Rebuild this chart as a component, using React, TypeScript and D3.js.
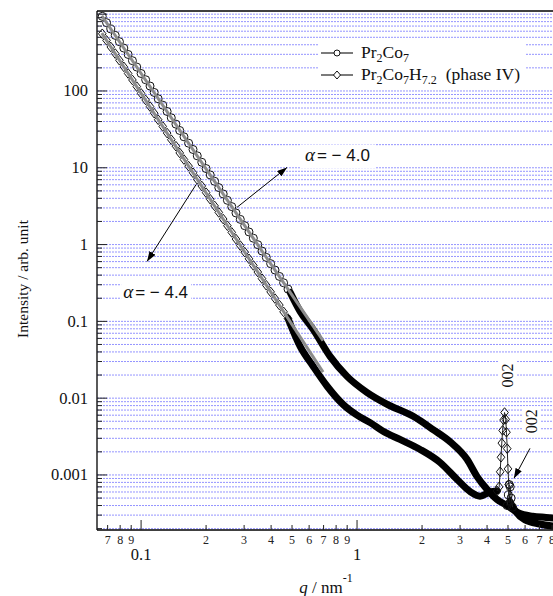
import React from 'react';
import * as d3 from 'd3';

// ---- data ----

// low-q region, sparse markers (both samples measured on the same q grid)
const qLow = [
  0.0661, 0.0692, 0.0724, 0.0759, 0.0794, 0.0832, 0.0871, 0.0912, 0.0955, 0.1,
  0.105, 0.11, 0.115, 0.12, 0.126, 0.132, 0.138, 0.145, 0.151, 0.158,
  0.166, 0.174, 0.182, 0.191, 0.2, 0.209, 0.219, 0.229, 0.24, 0.251,
  0.263, 0.275, 0.288, 0.302, 0.316, 0.331, 0.347, 0.363, 0.38, 0.398,
  0.417, 0.437, 0.457, 0.479,
];
const iPr2Co7Low = [
  938, 775, 641, 530, 438, 362, 299, 248, 205, 169,
  140, 116, 95.7, 79.1, 65.4, 54.1, 44.7, 37.0, 30.6, 25.3,
  20.9, 17.3, 14.3, 11.8, 9.77, 8.07, 6.67, 5.52, 4.56, 3.77,
  3.12, 2.58, 2.13, 1.76, 1.46, 1.21, 0.996, 0.824, 0.681, 0.564,
  0.466, 0.385, 0.318, 0.263,
];
const iHydrideLow = [
  556, 456, 374, 307, 251, 206, 169, 139, 114, 93.1,
  76.4, 62.7, 51.4, 42.2, 34.5, 28.3, 23.2, 19.1, 15.6, 12.8,
  10.5, 8.61, 7.06, 5.79, 4.74, 3.89, 3.19, 2.62, 2.15, 1.76,
  1.44, 1.18, 0.97, 0.796, 0.652, 0.535, 0.439, 0.36, 0.295, 0.242,
  0.198, 0.163, 0.133, 0.109,
];

// dense region (points so close they merge into a thick band)
const qPr2Co7Band = [0.49, 0.545, 0.626, 0.75, 0.899, 1.11, 1.38, 1.82, 2.25, 2.7, 3.23, 3.59, 4.0, 4.45, 4.95, 5.6, 6.5, 7.5, 8.8];
const iPr2Co7Band = [0.239, 0.135, 0.0787, 0.035, 0.0192, 0.0119, 0.0083, 0.0058, 0.0039, 0.0027, 0.0016, 0.00096, 0.00065, 0.00048, 0.0004, 0.00032, 0.00029, 0.00028, 0.00027];

const qHydrideBand = [0.479, 0.545, 0.626, 0.727, 0.861, 1.0, 1.15, 1.32, 1.58, 1.96, 2.42, 2.9, 3.33, 3.71, 4.13, 4.45];
const iHydrideBand = [0.109, 0.0472, 0.026, 0.0143, 0.0083, 0.006, 0.0048, 0.0037, 0.0029, 0.00215, 0.00146, 0.00088, 0.00061, 0.00053, 0.0006, 0.00062];

const qHydrideTail = [5.1, 5.4, 6.0, 7.0, 8.8];
const iHydrideTail = [0.00045, 0.00034, 0.00026, 0.00023, 0.00021];

// 002 reflections
const qHydridePeak = [4.45, 4.55, 4.6, 4.64, 4.68, 4.72, 4.77, 4.82, 4.88, 4.92, 4.96, 5.0, 5.04, 5.1];
const iHydridePeak = [0.00062, 0.0007, 0.0011, 0.0017, 0.0026, 0.0038, 0.0052, 0.0065, 0.0053, 0.0036, 0.0022, 0.0012, 0.00075, 0.00045];
const qPr2Co7Peak = [4.95, 5.02, 5.07, 5.12, 5.17, 5.25];
const iPr2Co7Peak = [0.0004, 0.00055, 0.00075, 0.0007, 0.0005, 0.00038];

// power-law fits (grey lines)
const fitQ = [0.0658, 0.696];
const fitPr2Co7 = [954, 0.056];
const fitHydride = [566, 0.0218];

// axis ticks
const yMajor = [0.001, 0.01, 0.1, 1, 10, 100, 1000];
const yMajorLabels = ['0.001', '0.01', '0.1', '1', '10', '100', ''];
const xMajor = [0.1, 1];
const xMajorLabels = ['0.1', '1'];

const serif = '"Liberation Serif", "Times New Roman", serif';
const sans = '"Liberation Sans", Arial, sans-serif';

const zip = (qs: number[], is: number[]) => qs.map((q, k) => [q, is[k]] as [number, number]);

const App = () => {
  const W = 553;
  const H = 596;
  const left = 97;
  const right = 573;
  const top = 11;
  const bottom = 530;

  const x = d3.scaleLog().domain([0.0625, 10]).range([left, right]);
  const y = d3.scaleLog().domain([1.92e-4, 1100]).range([bottom, top]);

  const line = d3.line<[number, number]>().x(d => x(d[0])).y(d => y(d[1]));
  const smooth = d3.line<[number, number]>().x(d => x(d[0])).y(d => y(d[1])).curve(d3.curveMonotoneX);

  // all minor/major y values for ticks and grid
  const yAll: number[] = [];
  for (let e = -4; e <= 3; e++) {
    for (let m = 1; m <= 9; m++) {
      const v = m * Math.pow(10, e);
      if (v >= 1.92e-4 && v <= 1100) yAll.push(v);
    }
  }
  const xAll: number[] = [];
  for (let e = -2; e <= 1; e++) {
    for (let m = 1; m <= 9; m++) {
      const v = m * Math.pow(10, e);
      if (v >= 0.0625 && v <= 10) xAll.push(v);
    }
  }
  const isMajor = (v: number) => Math.abs(Math.log10(v) - Math.round(Math.log10(v))) < 1e-6;

  const lowC = zip(qLow, iPr2Co7Low);
  const lowD = zip(qLow, iHydrideLow);
  const diamond = (cx: number, cy: number) => `M${cx},${cy - 4.8}L${cx + 3.8},${cy}L${cx},${cy + 4.8}L${cx - 3.8},${cy}Z`;

  // annotations in data coordinates
  const arrows = [
    { from: [0.278, 3.05], to: [0.474, 10.1] },
    { from: [0.18, 6.08], to: [0.1066, 0.604] },
    { from: [6.32, 0.00222], to: [5.33, 0.000904] },
  ];

  const ax1 = x(0.574), ay1 = y(12.1);
  const ax2 = x(0.0826), ay2 = y(0.2);
  const p1x = x(5.0), p1y = y(0.0198);
  const p2x = x(6.46), p2y = y(0.00499);

  const sub = (t: string) => (
    <tspan dy={4} fontSize={12}>{t}</tspan>
  );

  return (
    <div style={{ position: 'absolute', left: 0, top: 0 }}>
      <svg width={W} height={H} style={{ display: 'block', background: '#fff' }}>
        <defs>
          <clipPath id="plot">
            <rect x={left} y={top} width={right - left} height={bottom - top} />
          </clipPath>
          <marker id="ah" markerUnits="userSpaceOnUse" markerWidth={10} markerHeight={7} refX={10} refY={3.5} orient="auto">
            <path d="M0,0L10,3.5L0,7Z" fill="#000" />
          </marker>
        </defs>

        {/* horizontal grid */}
        <g>
          {yAll.map(v => (
            <line key={'g' + v} x1={left} x2={right} y1={y(v)} y2={y(v)} stroke="#4f4fff" strokeWidth={1} strokeDasharray="2 1" opacity={0.6} />
          ))}
        </g>

        {/* white boxes behind labels */}
        <rect x={318} y={40} width={207} height={47} fill="#fff" />
        <rect x={ax1 - 4} y={ay1 - 17} width={74} height={24} fill="#fff" />
        <rect x={ax2 - 2} y={ay2 - 15} width={70} height={20} fill="#fff" />
        <rect x={p1x - 9} y={p1y - 15} width={17} height={30} fill="#fff" />
        <rect x={p2x - 9} y={p2y - 15} width={17} height={30} fill="#fff" />

        <g clipPath="url(#plot)">
          {/* dense bands */}
          <path d={smooth(zip(qPr2Co7Band, iPr2Co7Band)) || ''} fill="none" stroke="#000" strokeWidth={7} strokeLinecap="round" strokeLinejoin="round" />
          <path d={smooth(zip(qHydrideBand, iHydrideBand)) || ''} fill="none" stroke="#000" strokeWidth={7} strokeLinecap="round" strokeLinejoin="round" />
          <path d={smooth(zip(qHydrideTail, iHydrideTail)) || ''} fill="none" stroke="#000" strokeWidth={7} strokeLinecap="round" strokeLinejoin="round" />

          {/* sparse low-q points */}
          <path d={line(lowC) || ''} fill="none" stroke="#444" strokeWidth={1} />
          <path d={line(lowD) || ''} fill="none" stroke="#444" strokeWidth={1} />
          {lowC.map((d, k) => (
            <circle key={'c' + k} cx={x(d[0])} cy={y(d[1])} r={4} fill="none" stroke="#111" strokeWidth={1} />
          ))}
          {lowD.map((d, k) => (
            <path key={'d' + k} d={diamond(x(d[0]), y(d[1]))} fill="none" stroke="#111" strokeWidth={1} />
          ))}

          {/* 002 peaks */}
          <path d={line(zip(qHydridePeak, iHydridePeak)) || ''} fill="none" stroke="#222" strokeWidth={1} />
          {zip(qHydridePeak, iHydridePeak).map((d, k) => (
            <path key={'pd' + k} d={diamond(x(d[0]), y(d[1]))} fill="none" stroke="#111" strokeWidth={1} />
          ))}
          <path d={line(zip(qPr2Co7Peak, iPr2Co7Peak)) || ''} fill="none" stroke="#222" strokeWidth={1} />
          {zip(qPr2Co7Peak, iPr2Co7Peak).map((d, k) => (
            <circle key={'pc' + k} cx={x(d[0])} cy={y(d[1])} r={4} fill="none" stroke="#111" strokeWidth={1} />
          ))}

          {/* power-law fits */}
          <path d={line(zip(fitQ, fitPr2Co7)) || ''} fill="none" stroke="#8c8c8c" strokeWidth={3} />
          <path d={line(zip(fitQ, fitHydride)) || ''} fill="none" stroke="#8c8c8c" strokeWidth={3} />
        </g>

        {/* axes frame */}
        <line x1={left} x2={left} y1={top} y2={bottom} stroke="#000" strokeWidth={1.3} />
        <line x1={left} x2={right} y1={bottom} y2={bottom} stroke="#000" strokeWidth={1.3} />
        <line x1={left} x2={right} y1={top} y2={top} stroke="#000" strokeWidth={1.3} />

        {/* y ticks */}
        {yAll.map(v => (
          <line key={'yt' + v} x1={left} x2={left + (isMajor(v) ? 10 : 5)} y1={y(v)} y2={y(v)} stroke="#222" strokeWidth={1} />
        ))}
        {yMajor.map((v, k) => (
          <text key={'yl' + v} x={88} y={y(v) + 5.5} textAnchor="end" fontFamily={serif} fontSize={16.5} fill="#111">
            {yMajorLabels[k]}
          </text>
        ))}

        {/* x ticks */}
        {xAll.map(v => (
          <line key={'xt' + v} x1={x(v)} x2={x(v)} y1={bottom} y2={bottom - (isMajor(v) ? 10 : 5)} stroke="#222" strokeWidth={1} />
        ))}
        {xAll.filter(v => !isMajor(v) && x(v) < W).map(v => (
          <text key={'xm' + v} x={x(v)} y={544} textAnchor="middle" fontFamily={serif} fontSize={12} fill="#222">
            {Math.round(v / Math.pow(10, Math.floor(Math.log10(v) + 1e-9)))}
          </text>
        ))}
        {xMajor.map((v, k) => (
          <text key={'xl' + v} x={x(v)} y={560} textAnchor="middle" fontFamily={serif} fontSize={16.5} fill="#111">
            {xMajorLabels[k]}
          </text>
        ))}

        {/* axis titles */}
        <text transform="translate(28,279) rotate(-90)" textAnchor="middle" fontFamily={serif} fontSize={15.5} fill="#111">
          Intensity / arb. unit
        </text>
        <text x={326} y={593} textAnchor="middle" fontFamily={serif} fontSize={17} fill="#111">
          <tspan fontStyle="italic">q</tspan> / nm<tspan dy={-11} fontSize={12}>-1</tspan>
        </text>

        {/* legend */}
        <g fontFamily={serif} fontSize={17.5} fill="#111">
          <line x1={321} x2={353} y1={53} y2={53} stroke="#333" strokeWidth={1.3} />
          <circle cx={337} cy={53} r={3} fill="#fff" stroke="#111" strokeWidth={1} />
          <text x={361} y={58}>
            Pr{sub('2')}<tspan dy={-4}>Co</tspan>{sub('7')}
          </text>
          <line x1={321} x2={353} y1={75} y2={75} stroke="#333" strokeWidth={1.3} />
          <path d="M337,71L340.5,75L337,79L333.5,75Z" fill="#fff" stroke="#111" strokeWidth={1} />
          <text x={361} y={80}>
            Pr{sub('2')}<tspan dy={-4}>Co</tspan>{sub('7')}<tspan dy={-4}>H</tspan>{sub('7.2')}<tspan dy={-4} dx={9}>(phase IV)</tspan>
          </text>
        </g>

        {/* annotations */}
        {arrows.map((a, k) => (
          <line key={'ar' + k} x1={x(a.from[0])} y1={y(a.from[1])} x2={x(a.to[0])} y2={y(a.to[1])} stroke="#000" strokeWidth={1} markerEnd="url(#ah)" />
        ))}
        <text x={ax1} y={ay1} fontSize={17} fill="#111">
          <tspan fontFamily={serif} fontStyle="italic" fontSize={19}>α</tspan>
          <tspan fontFamily={sans} dx={2}>= − 4.0</tspan>
        </text>
        <text x={ax2} y={ay2} fontSize={17} fill="#111">
          <tspan fontFamily={serif} fontStyle="italic" fontSize={19}>α</tspan>
          <tspan fontFamily={sans} dx={2}>= − 4.4</tspan>
        </text>
        <text transform={`translate(${p1x + 5},${p1y}) rotate(-90)`} textAnchor="middle" fontFamily={serif} fontSize={16} fill="#111">002</text>
        <text transform={`translate(${p2x + 5},${p2y}) rotate(-90)`} textAnchor="middle" fontFamily={serif} fontSize={16} fill="#111">002</text>
      </svg>
    </div>
  );
};

export default App;
